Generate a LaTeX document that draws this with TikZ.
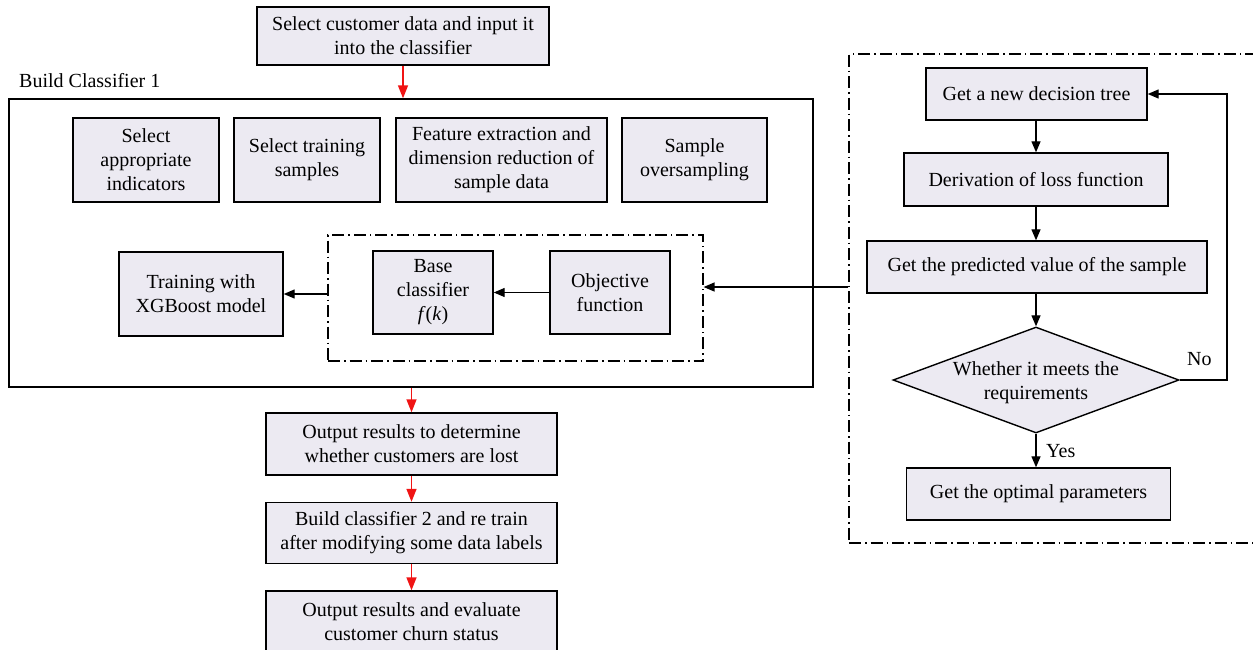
\documentclass[tikz,border=0pt]{standalone}
\usepackage{fontspec}
\setmainfont{Liberation Serif}
\usetikzlibrary{arrows.meta,shapes.geometric}
\definecolor{boxfill}{RGB}{236,234,242}
\definecolor{redarr}{RGB}{240,20,20}
\begin{document}
\begin{tikzpicture}[x=1pt,y=-1pt,
  txt/.style={font=\fontsize{20}{24}\selectfont, align=center, inner sep=0pt},
  box/.style={txt, draw, line width=1.4pt, fill=boxfill, rectangle},
  frame/.style={draw, line width=1.4pt, rectangle, inner sep=0pt},
  ddbox/.style={draw, line width=1.2pt, rectangle, inner sep=0pt, dash pattern=on 12pt off 4pt on 1.5pt off 4pt},
  arr/.style={line width=1.3pt, -{Triangle[width=9pt,length=11pt]}},
  rarr/.style={line width=1.6pt, draw=redarr, -{Triangle[width=10pt,length=13pt,fill=redarr]}}]
\useasboundingbox (0,0) rectangle (1253,649);
% left column
\node[box, minimum width=292pt, minimum height=58pt] (top) at (403,36) {Select customer data and input it\\into the classifier};
\node[frame, minimum width=804pt, minimum height=288pt] (big) at (411,243) {};
\node[txt, anchor=base west] (lbl) at (19,87) {Build Classifier 1};
\node[box, minimum width=146pt, minimum height=84pt] (b1) at (146,160) {Select\\appropriate\\indicators};
\node[box, minimum width=146pt, minimum height=84pt] (b2) at (307,160) {Select training\\samples};
\node[box, minimum width=211pt, minimum height=84pt] (b3) at (501.5,160) {Feature extraction and\\dimension reduction of\\sample data};
\node[box, minimum width=145pt, minimum height=84pt] (b4) at (694.5,160) {Sample\\oversampling};
\node[ddbox, minimum width=375pt, minimum height=126pt] (inner) at (515.5,298) {};
\node[box, minimum width=164pt, minimum height=84pt] (train) at (201,294) {Training with\\XGBoost model};
\node[box, minimum width=120pt, minimum height=83pt] (base) at (433,292.5) {Base\\classifier\\\textit{f}(\textit{k})};
\node[box, minimum width=120pt, minimum height=83pt] (obj) at (610,292.5) {Objective\\function};
\node[box, minimum width=291pt, minimum height=62pt] (o1) at (411.5,444) {Output results to determine\\whether customers are lost};
\node[box, minimum width=291pt, minimum height=61pt] (o2) at (411.5,533) {Build classifier 2 and re train\\after modifying some data labels};
\node[box, minimum width=291pt, minimum height=62pt] (o3) at (411.5,622) {Output results and evaluate\\customer churn status};
% right part
\node[ddbox, minimum width=411pt, minimum height=489pt] (rdd) at (1054.5,298.5) {};
\node[box, minimum width=221pt, minimum height=52pt] (r1) at (1036.5,94) {Get a new decision tree};
\node[box, minimum width=264pt, minimum height=53pt] (r2) at (1036,179.5) {Derivation of loss function};
\node[box, minimum width=340pt, minimum height=52pt] (r3) at (1037,267) {Get the predicted value of the sample};
\node[diamond, draw, line width=1.4pt, fill=boxfill, inner sep=0pt, minimum width=286pt, minimum height=106pt] (dia) at (1036,380) {};
\node[txt] (diat) at (1036,383) {Whether it meets the\\requirements};
\node[box, minimum width=264pt, minimum height=52pt] (r4) at (1038.5,494) {Get the optimal parameters};
\node[txt, anchor=base west] (no) at (1187,365) {No};
\node[txt, anchor=base west] (yes) at (1046,457) {Yes};
\coordinate (loopc) at (1227,380);
\coordinate (ya) at (0,287);
\coordinate (yb) at (0,294);
% connectors
\draw[rarr] (top.south) -- (top.south |- big.north);
\draw[rarr] (o1.north |- big.south) -- (o1.north);
\draw[rarr] (o1.south) -- (o2.north);
\draw[rarr] (o2.south) -- (o3.north);
\draw[arr] (obj.west) -- (base.east);
\draw[arr] (inner.west |- yb) -- (train.east |- yb);
\draw[arr] (rdd.west |- ya) -- (inner.east |- ya);
\draw[arr] (r1.south -| dia.north) -- (r2.north -| dia.north);
\draw[arr] (r2.south -| dia.north) -- (r3.north -| dia.north);
\draw[arr] (r3.south -| dia.north) -- (dia.north);
\draw[arr] (dia.south) -- (r4.north -| dia.south);
\draw[arr] (dia.east) -- (loopc) |- (r1.east);
\end{tikzpicture}
\end{document}
